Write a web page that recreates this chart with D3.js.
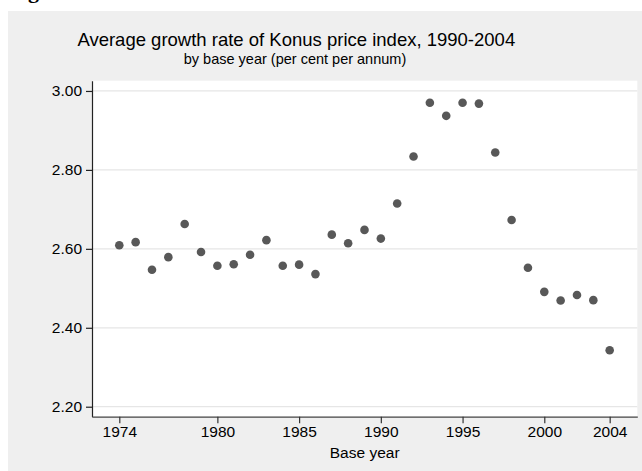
<!DOCTYPE html>
<html>
<head>
<meta charset="utf-8">
<script src="https://cdn.jsdelivr.net/npm/d3@7"></script>
<style>
  html, body { margin: 0; padding: 0; background: #ffffff; }
  svg { display: block; }
  text { font-family: "Liberation Sans", Arial, Helvetica, sans-serif; fill: #000; }
</style>
</head>
<body>
<svg id="chart" width="642" height="471"></svg>
<script>
// ---- Data ----
const years = [1974, 1975, 1976, 1977, 1978, 1979, 1980, 1981, 1982, 1983,
               1984, 1985, 1986, 1987, 1988, 1989, 1990, 1991, 1992, 1993,
               1994, 1995, 1996, 1997, 1998, 1999, 2000, 2001, 2002, 2003, 2004];
const growthRates = [2.609, 2.617, 2.547, 2.579, 2.663, 2.592, 2.557, 2.561, 2.585, 2.622,
                     2.557, 2.560, 2.536, 2.636, 2.614, 2.648, 2.626, 2.715, 2.834, 2.970,
                     2.937, 2.970, 2.968, 2.844, 2.673, 2.552, 2.491, 2.469, 2.483, 2.470, 2.343];
const xTickValues = [1974, 1980, 1985, 1990, 1995, 2000, 2004];
const yTickValues = [2.20, 2.40, 2.60, 2.80, 3.00];
const titleText = "Average growth rate of Konus price index, 1990-2004";
const subtitleText = "by base year (per cent per annum)";
const xAxisTitle = "Base year";
const figureLabel = "Figure";

// ---- Layout ----
const svg = d3.select("#chart");
const W = 642, H = 471;
const plot = { left: 92, right: 637.3, top: 80.7, bottom: 416.7 };

// outer grey panel
svg.append("rect").attr("x", 8).attr("y", 11).attr("width", W - 8).attr("height", H - 11)
  .attr("fill", "#efefef");

// cropped figure label at the very top
svg.append("text").attr("x", 8.5).attr("y", -2)
  .style("font-family", "'Liberation Serif', 'Times New Roman', serif")
  .style("font-weight", "bold").style("font-size", "22px")
  .text(figureLabel);

// plot region
svg.append("rect").attr("x", plot.left).attr("y", plot.top)
  .attr("width", plot.right - plot.left).attr("height", plot.bottom - plot.top)
  .attr("fill", "#ffffff");

const x = d3.scaleLinear().domain([1972.33, 2005.69]).range([plot.left, plot.right]);
const y = d3.scaleLinear().domain([2.1747, 3.026]).range([plot.bottom, plot.top]);

// gridlines
svg.append("g").selectAll("line").data(yTickValues).join("line")
  .attr("x1", plot.left).attr("x2", plot.right)
  .attr("y1", d => y(d)).attr("y2", d => y(d))
  .attr("stroke", "#e6e6e6").attr("stroke-width", 1.2);

// y axis
const yAxis = d3.axisLeft(y).tickValues(yTickValues).tickFormat(d3.format(".2f"))
  .tickSizeInner(6).tickSizeOuter(0).tickPadding(4);
const gy = svg.append("g").attr("transform", `translate(${plot.left},0)`).call(yAxis);
gy.select(".domain").attr("stroke", "#222").attr("stroke-width", 1.2);
gy.selectAll(".tick line").attr("stroke", "#222").attr("stroke-width", 1.2);
gy.selectAll(".tick text").style("font-size", "15.5px").attr("fill", "#000")
  .style("font-family", "'Liberation Sans', Arial, sans-serif");

// x axis
const xAxis = d3.axisBottom(x).tickValues(xTickValues).tickFormat(d3.format("d"))
  .tickSizeInner(6.5).tickSizeOuter(0).tickPadding(3);
const gx = svg.append("g").attr("transform", `translate(0,${plot.bottom})`).call(xAxis);
gx.select(".domain").attr("stroke", "#444").attr("stroke-width", 1.2);
gx.selectAll(".tick line").attr("stroke", "#333").attr("stroke-width", 1.2);
gx.selectAll(".tick text").style("font-size", "15.5px").attr("fill", "#000")
  .style("font-family", "'Liberation Sans', Arial, sans-serif");

// axis title
svg.append("text").attr("x", (plot.left + plot.right) / 2).attr("y", 457.8)
  .attr("text-anchor", "middle").style("font-size", "15.5px").text(xAxisTitle);

// titles
svg.append("text").attr("x", 296.3).attr("y", 45.5).attr("text-anchor", "middle")
  .style("font-size", "18.5px").text(titleText);
svg.append("text").attr("x", 295).attr("y", 64).attr("text-anchor", "middle")
  .style("font-size", "14.5px").text(subtitleText);

// points
const data = years.map((yr, i) => ({ year: yr, value: growthRates[i] }));
svg.append("g").selectAll("circle").data(data).join("circle")
  .attr("cx", d => x(d.year)).attr("cy", d => y(d.value))
  .attr("r", 4.3).attr("fill", "#585858");
</script>
</body>
</html>
